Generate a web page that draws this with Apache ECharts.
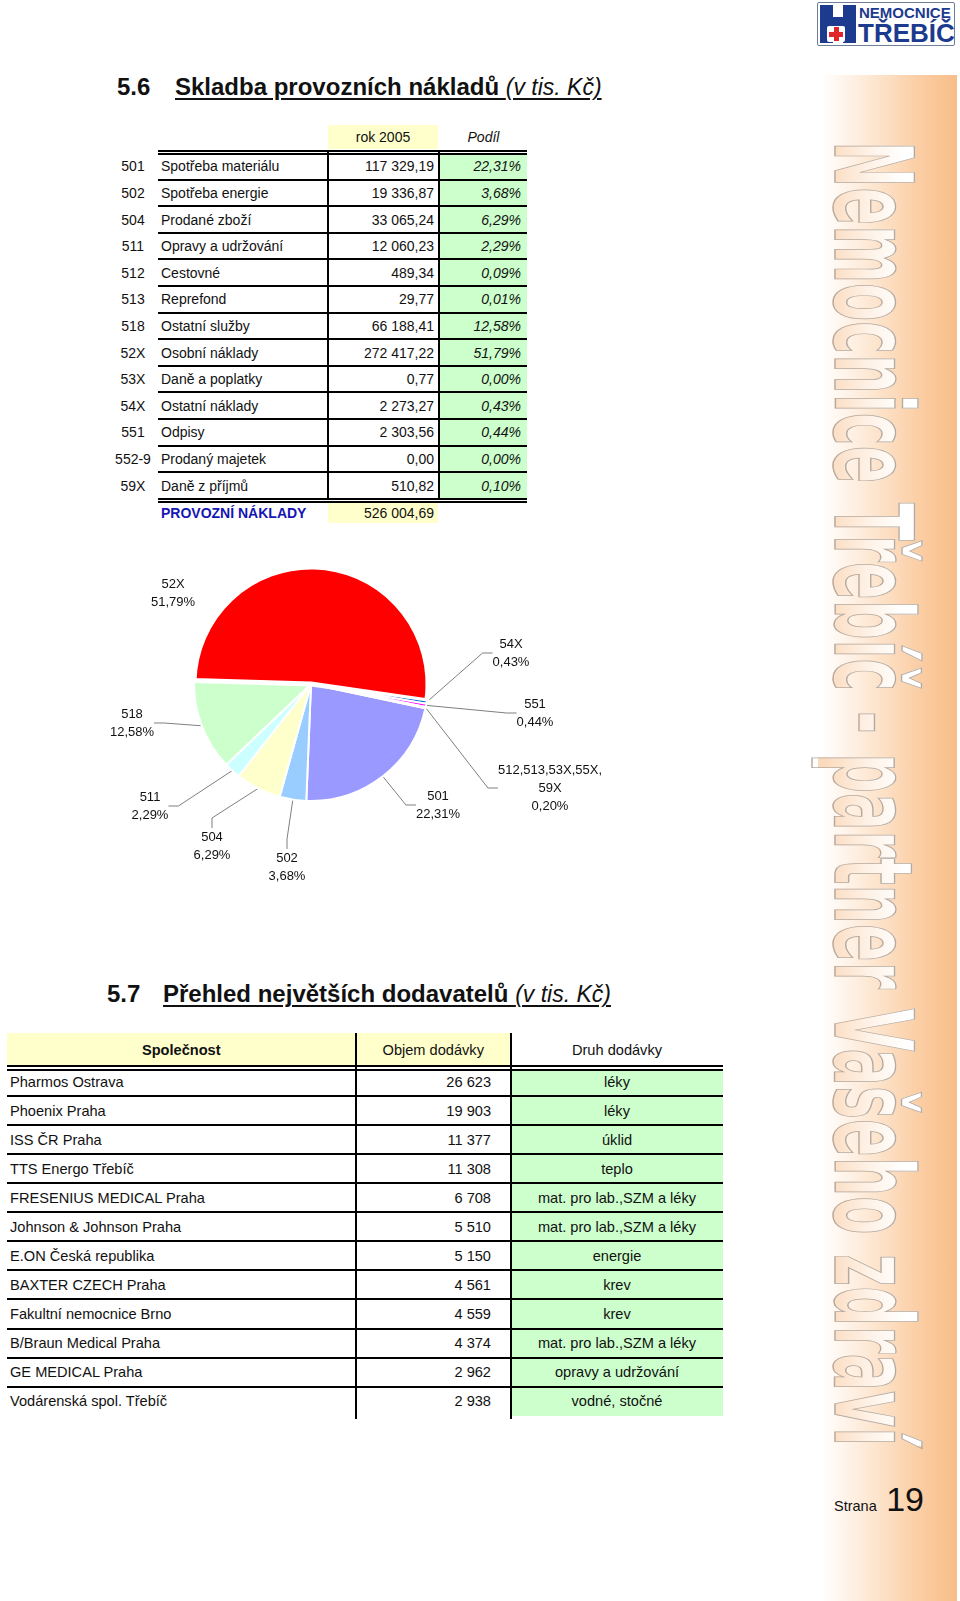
<!DOCTYPE html>
<html lang="cs">
<head>
<meta charset="utf-8">
<title>Skladba provozních nákladů</title>
<script src="https://cdn.jsdelivr.net/npm/echarts@6/dist/echarts.min.js"></script>
<style>
  html, body { margin: 0; padding: 0; background: #fff; }
  body { width: 960px; height: 1601px; position: relative; overflow: hidden;
         font-family: "Liberation Sans", Arial, sans-serif; color: #111; }
  .abs { position: absolute; }
  .line { position: absolute; background: #000; }
  .t1 { position: absolute; font-size: 14px; height: 20px; line-height: 20px; white-space: nowrap; }
  .t2 { position: absolute; font-size: 14.6px; height: 20px; line-height: 20px; white-space: nowrap; }
  .title { position: absolute; font-size: 24px; font-weight: bold; height: 32px; line-height: 32px; white-space: nowrap; }
  .title .u { text-decoration: underline; text-decoration-thickness: 2px; text-underline-offset: 3px; }
  .title i { font-weight: normal; font-size: 23px; }
  #sidebar { position: absolute; left: 822px; top: 75px; width: 135px; height: 1526px;
    background: linear-gradient(to right, #ffffff 0%, #fde6d0 38%, #fbcfa6 70%, #f8bd88 100%); }
  #vtext { position: absolute; left: 0; top: 0; white-space: nowrap;
    font-family: "DejaVu Sans", sans-serif; font-weight: bold; font-size: 108px; line-height: 108px;
    transform-origin: 0 0;
    background: linear-gradient(to bottom, #ffffff 20%, #fef3e9 50%, #fbd9bb 95%);
    -webkit-background-clip: text; background-clip: text;
    color: transparent; -webkit-text-fill-color: transparent;
    -webkit-text-stroke: 1.4px #b6aa9f; }
  #chart { position: absolute; left: 0; top: 0; width: 960px; height: 1601px; z-index: 2; }
</style>
</head>
<body>
<div id="sidebar"></div>
<div id="vtext">Nemocnice Třebíč - partner Vašeho zdraví</div>

<!-- logo -->
<div class="abs" style="left:817px;top:2px;width:136px;height:42px;border:1.5px solid #6f7f98;border-radius:2px;background:#fff;"></div>
<div class="abs" style="left:820px;top:5px;width:13px;height:38px;background:#1c3a8e;"></div>
<div class="abs" style="left:843px;top:5px;width:13px;height:38px;background:#1c3a8e;"></div>
<div class="abs" style="left:833px;top:17px;width:10px;height:9px;background:#1c3a8e;"></div>
<div class="abs" style="left:827px;top:26px;width:18px;height:16px;background:#fff;border-radius:2px;"></div>
<div class="abs" style="left:834px;top:27px;width:5px;height:14px;background:#e0262b;"></div>
<div class="abs" style="left:829px;top:32px;width:14px;height:5px;background:#e0262b;"></div>
<div class="abs" style="left:859px;top:4px;font-weight:bold;font-size:15px;line-height:17px;color:#1c3a8e;white-space:nowrap;">NEMOCNICE</div>
<div class="abs" style="left:858px;top:19px;font-weight:bold;font-size:26px;line-height:28px;color:#1c3a8e;white-space:nowrap;">TŘEBÍČ</div>

<div class="title" style="left:117px;top:71px;">5.6</div>
<div class="title" style="left:175px;top:71px;"><span class="u">Skladba provozních nákladů <i>(v tis. Kč)</i></span></div>

<div id="table1"></div>

<div class="title" style="left:107px;top:978px;">5.7</div>
<div class="title" style="left:163px;top:978px;"><span class="u">Přehled největších dodavatelů <i>(v tis. Kč)</i></span></div>

<div id="table2"></div>

<div class="abs" style="left:834px;top:1479px;white-space:nowrap;line-height:40px;">
  <span style="font-size:14.5px;">Strana</span><span style="font-size:34px;"> 19</span>
</div>

<div id="chart"></div>

<script>
// ---------- data: 5.6 Skladba provozních nákladů ----------
var costCodes = ['501', '502', '504', '511', '512', '513', '518', '52X', '53X', '54X', '551', '552-9', '59X'];
var costNames = ['Spotřeba materiálu', 'Spotřeba energie', 'Prodané zboží', 'Opravy a udržování', 'Cestovné',
  'Reprefond', 'Ostatní služby', 'Osobní náklady', 'Daně a poplatky', 'Ostatní náklady', 'Odpisy',
  'Prodaný majetek', 'Daně z příjmů'];
var costValues = [117329.19, 19336.87, 33065.24, 12060.23, 489.34, 29.77, 66188.41, 272417.22, 0.77,
  2273.27, 2303.56, 0.00, 510.82];
var costShares = [22.31, 3.68, 6.29, 2.29, 0.09, 0.01, 12.58, 51.79, 0.00, 0.43, 0.44, 0.00, 0.10];
var costTotal = 526004.69;
var costTotalLabel = 'PROVOZNÍ NÁKLADY';
var yearHeader = 'rok 2005';
var shareHeader = 'Podíl';

// ---------- data: pie ----------
var pieNames = ['501', '502', '504', '511', '518', '52X', '54X', '551', '512,513,53X,55X,\n59X'];
var pieValues = [117329.19, 19336.87, 33065.24, 12060.23, 66188.41, 272417.22, 2273.27, 2303.56, 1030.70];

// ---------- data: 5.7 Přehled největších dodavatelů ----------
var supplierHeaders = ['Společnost', 'Objem dodávky', 'Druh dodávky'];
var suppliers = ['Pharmos Ostrava', 'Phoenix Praha', 'ISS ČR Praha', 'TTS Energo Třebíč', 'FRESENIUS MEDICAL Praha',
  'Johnson & Johnson Praha', 'E.ON Česká republika', 'BAXTER CZECH Praha', 'Fakultní nemocnice Brno',
  'B/Braun Medical Praha', 'GE MEDICAL Praha', 'Vodárenská spol. Třebíč'];
var supplyVolumes = [26623, 19903, 11377, 11308, 6708, 5510, 5150, 4561, 4559, 4374, 2962, 2938];
var supplyKinds = ['léky', 'léky', 'úklid', 'teplo', 'mat. pro lab.,SZM a léky', 'mat. pro lab.,SZM a léky',
  'energie', 'krev', 'krev', 'mat. pro lab.,SZM a léky', 'opravy a udržování', 'vodné, stočné'];

// ---------- styles ----------
var pieColors = ['#9999ff', '#99ccff', '#ffffcc', '#ccffff', '#ccffcc', '#ff0000', '#0066cc', '#ff00ff', '#ffffff'];
var pieLabelPos = [[438, 805], [287, 867], [212, 846], [150, 806], [132, 723], [173, 593], [511, 653], [535, 713], [550, 788]];

function fmtNum(v, dec) {
  var s = v.toFixed(dec).split('.');
  var ip = s[0].replace(/\B(?=(\d{3})+(?!\d))/g, ' ');
  return dec ? ip + ',' + s[1] : ip;
}
function el(parent, cls, css, text) {
  var d = document.createElement('div');
  if (cls) d.className = cls;
  d.style.cssText = css;
  if (text != null) d.textContent = text;
  parent.appendChild(d);
  return d;
}

// ---------- table 1 ----------
(function () {
  var t = document.getElementById('table1');
  var rowTop = 153, rowH = 26.6, L = 158, R = 527;
  el(t, 'abs', 'left:328px;top:125px;width:110px;height:24px;background:#ffffcc;');
  el(t, 't1', 'left:328px;top:127px;width:110px;text-align:center;', yearHeader);
  el(t, 't1', 'left:440px;top:127px;width:87px;text-align:center;font-style:italic;', shareHeader);
  var n = costCodes.length;
  var bottom = rowTop + rowH * n;
  el(t, 'abs', 'left:439px;top:' + rowTop + 'px;width:88px;height:' + (bottom - rowTop) + 'px;background:#ccffcc;');
  el(t, 'line', 'left:' + L + 'px;top:149.5px;width:' + (R - L) + 'px;height:2px;');
  el(t, 'line', 'left:' + L + 'px;top:153px;width:' + (R - L) + 'px;height:2px;');
  for (var i = 0; i < n; i++) {
    var cy = rowTop + rowH * i + rowH / 2;
    var top = (cy - 10) + 'px';
    el(t, 't1', 'left:110px;top:' + top + ';width:46px;text-align:center;', costCodes[i]);
    el(t, 't1', 'left:161px;top:' + top + ';', costNames[i]);
    el(t, 't1', 'left:330px;top:' + top + ';width:104px;text-align:right;', fmtNum(costValues[i], 2));
    el(t, 't1', 'left:440px;top:' + top + ';width:81px;text-align:right;font-style:italic;',
      costShares[i].toFixed(2).replace('.', ',') + '%');
    if (i < n - 1) {
      el(t, 'line', 'left:' + L + 'px;top:' + (rowTop + rowH * (i + 1) - 1) + 'px;width:' + (R - L) + 'px;height:2px;');
    }
  }
  el(t, 'line', 'left:' + L + 'px;top:' + (bottom - 1) + 'px;width:' + (R - L) + 'px;height:2px;');
  el(t, 'line', 'left:' + L + 'px;top:' + (bottom + 2.5) + 'px;width:' + (R - L) + 'px;height:2px;');
  el(t, 'line', 'left:327px;top:149.5px;width:2px;height:' + (bottom - 149.5) + 'px;');
  el(t, 'line', 'left:437.5px;top:149.5px;width:2px;height:' + (bottom - 149.5) + 'px;');
  el(t, 'abs', 'left:328px;top:' + (bottom + 4.5) + 'px;width:110px;height:20px;background:#ffffcc;');
  el(t, 't1', 'left:161px;top:' + (bottom + 4.5) + 'px;font-weight:bold;color:#1616b4;', costTotalLabel);
  el(t, 't1', 'left:330px;top:' + (bottom + 4.5) + 'px;width:104px;text-align:right;', fmtNum(costTotal, 2));
})();

// ---------- table 2 ----------
(function () {
  var t = document.getElementById('table2');
  var L = 7, R = 723, x1 = 355.5, x2 = 511;
  var headTop = 1033, headBot = 1065, rowTop = 1067, rowH = 29.07;
  var n = suppliers.length;
  var bottom = rowTop + rowH * n;
  el(t, 'abs', 'left:' + L + 'px;top:' + headTop + 'px;width:' + (x2 - L) + 'px;height:' + (headBot - headTop) + 'px;background:#ffffcc;');
  el(t, 'abs', 'left:' + x2 + 'px;top:' + (headBot + 5) + 'px;width:' + (R - x2) + 'px;height:' + (bottom - headBot - 5) + 'px;background:#ccffcc;');
  el(t, 't2', 'left:' + L + 'px;top:1040px;width:' + (x1 - L) + 'px;text-align:center;font-weight:bold;', supplierHeaders[0]);
  el(t, 't2', 'left:' + x1 + 'px;top:1040px;width:' + (x2 - x1) + 'px;text-align:center;', supplierHeaders[1]);
  el(t, 't2', 'left:' + x2 + 'px;top:1040px;width:' + (R - x2) + 'px;text-align:center;', supplierHeaders[2]);
  el(t, 'line', 'left:' + L + 'px;top:1065px;width:' + (R - L) + 'px;height:2px;');
  el(t, 'line', 'left:' + L + 'px;top:1068.5px;width:' + (R - L) + 'px;height:2px;');
  for (var i = 0; i < n; i++) {
    var cy = 1081.5 + rowH * i;
    var top = (cy - 10) + 'px';
    el(t, 't2', 'left:10px;top:' + top + ';', suppliers[i]);
    el(t, 't2', 'left:' + x1 + 'px;top:' + top + ';width:' + (491 - x1) + 'px;text-align:right;', fmtNum(supplyVolumes[i], 0));
    el(t, 't2', 'left:' + x2 + 'px;top:' + top + ';width:' + (R - x2) + 'px;text-align:center;', supplyKinds[i]);
    if (i < n - 1) {
      el(t, 'line', 'left:' + L + 'px;top:' + (cy + 13.5) + 'px;width:' + (R - L) + 'px;height:2px;');
    }
  }
  el(t, 'line', 'left:' + (x1 - 1) + 'px;top:' + headTop + 'px;width:2px;height:' + (bottom + 3 - headTop) + 'px;');
  el(t, 'line', 'left:' + (x2 - 1) + 'px;top:' + headTop + 'px;width:2px;height:' + (bottom + 3 - headTop) + 'px;');
})();

// ---------- vertical sidebar text ----------
(function () {
  var v = document.getElementById('vtext');
  var w = v.offsetWidth;
  var k = 1305 / w;
  v.style.transform = 'translate(926px, 141px) rotate(90deg) scaleX(' + k + ')';
})();

// ---------- pie chart ----------
var pieTotal = pieValues.reduce(function (a, b) { return a + b; }, 0);
var chart = echarts.init(document.getElementById('chart'), null, { renderer: 'canvas' });
var pieData = pieNames.map(function (name, i) {
  var item = { name: name, value: pieValues[i], itemStyle: { color: pieColors[i] } };
  if (name === '52X') {
    item.labelLine = { show: false };
    item.itemStyle.borderWidth = 5;
  }
  return item;
});
chart.setOption({
  animation: false,
  series: [{
    type: 'pie',
    center: [311, 684],
    radius: 117,
    startAngle: 348,
    clockwise: true,
    avoidLabelOverlap: false,
    itemStyle: { borderColor: '#ffffff', borderWidth: 2 },
    label: {
      show: true,
      position: 'outside',
      fontFamily: 'Liberation Sans, Arial, sans-serif',
      fontSize: 13,
      lineHeight: 18,
      color: '#111',
      align: 'center',
      formatter: function (p) {
        return p.name + '\n' + (p.value / pieTotal * 100).toFixed(2).replace('.', ',') + '%';
      }
    },
    labelLine: { show: true, length: 12, length2: 10, lineStyle: { color: '#7f7f7f', width: 1 } },
    labelLayout: function (params) {
      var pos = pieLabelPos[params.dataIndex];
      return { x: pos[0], y: pos[1], align: 'center', verticalAlign: 'middle' };
    },
    emphasis: { disabled: true },
    data: pieData
  }]
});
</script>
</body>
</html>
